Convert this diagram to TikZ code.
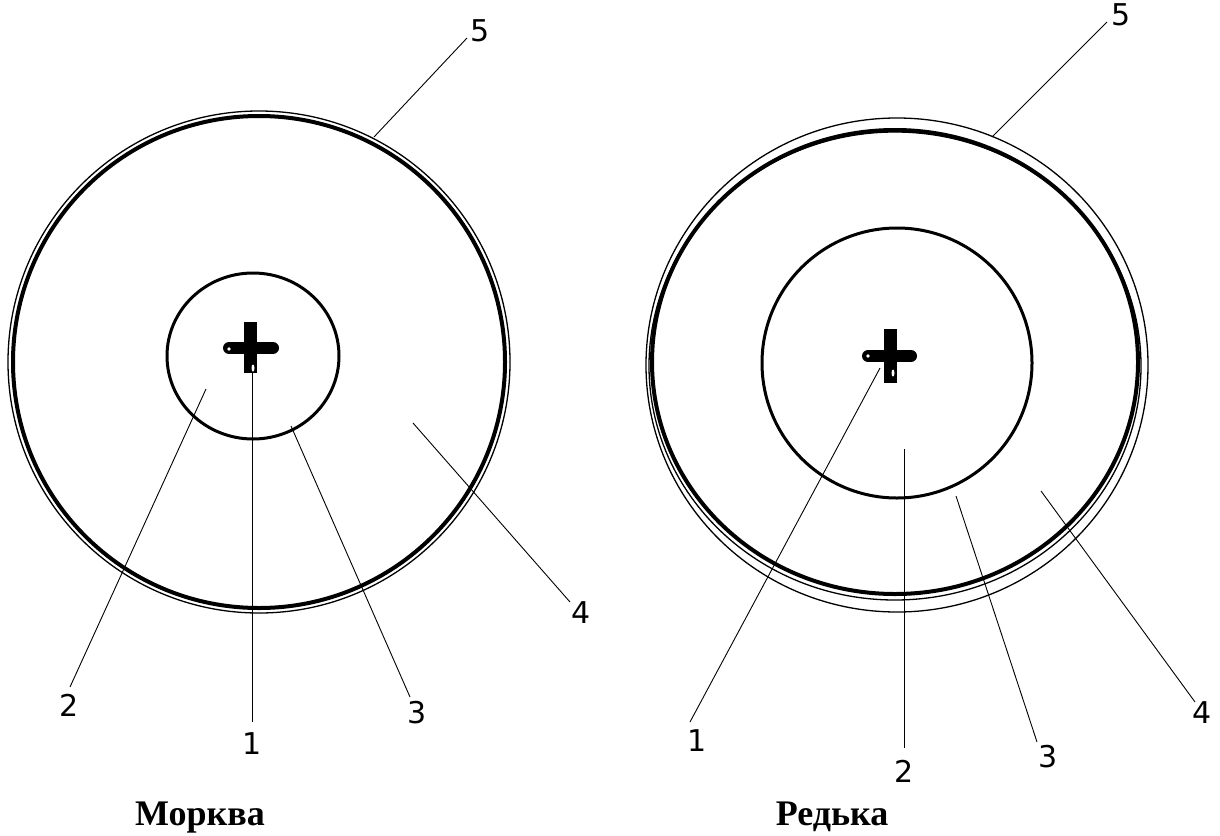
\documentclass[tikz,border=0pt]{standalone}
\usepackage{fontspec}
\setmainfont{Liberation Serif}
\newfontfamily\digitfont{DejaVu Sans}
\begin{document}
\begin{tikzpicture}[x=1pt,y=-1pt,
  thickc/.style={line width=4pt},
  thinc/.style={line width=1.3pt},
  innerc/.style={line width=3pt},
  leader/.style={line width=0.9pt},
  hbar/.style={line width=12pt, line cap=round},
  vbar/.style={line width=13pt},
  num/.style={font=\digitfont\fontsize{30}{30}\selectfont, inner sep=0pt},
  caption/.style={font=\bfseries\fontsize{36}{36}\selectfont, inner sep=0pt, anchor=base}]
\useasboundingbox[fill=white] (0,0) rectangle (1220,835);

% ---------------- left: Morkva ----------------
\draw[thinc] (259,362) circle[radius=251];
\draw[thickc] (259,362) circle[radius=246];
\draw[innerc] (253,356) circle[x radius=86, y radius=83];
% cross
\draw[hbar] (229,348) -- (273,348);
\draw[vbar] (250.5,322) -- (250.5,373);
\fill[white] (229,349) circle[radius=1.8];
\fill[white] (253,368) circle[x radius=1.5, y radius=3.5];

\coordinate (La1) at (252,373);
\coordinate (Lb1) at (252,722);
\coordinate (La2) at (206,389);
\coordinate (Lb2) at (70,687);
\coordinate (La3) at (291,426);
\coordinate (Lb3) at (410,697);
\coordinate (La4) at (413,423);
\coordinate (Lb4) at (570,602);
\coordinate (La5) at (374,137);
\coordinate (Lb5) at (467,38);

\node[num] (Ln1) at (252,744) {1};
\node[num] (Ln2) at (69,705) {2};
\node[num] (Ln3) at (417,713) {3};
\node[num] (Ln4) at (581,613) {4};
\node[num] (Ln5) at (480,31) {5};

\draw[leader] (La1) -- (Lb1);
\draw[leader] (La2) -- (Lb2);
\draw[leader] (La3) -- (Lb3);
\draw[leader] (La4) -- (Lb4);
\draw[leader] (La5) -- (Lb5);

\node[caption] (Lt) at (200,825) {Морква};

% ---------------- right: Redka ----------------
\draw[thinc] (897,365) circle[x radius=251, y radius=247];
\draw[thinc] (895,366) circle[x radius=246, y radius=234];
\draw[thickc] (895,362) circle[x radius=243, y radius=232];
\draw[innerc] (897,363) circle[radius=135];
% cross
\draw[hbar] (868,356) -- (911,356);
\draw[vbar] (890,329) -- (890,383);
\fill[white] (868,356) circle[radius=1.8];
\fill[white] (893,373) circle[x radius=1.5, y radius=3.5];

\coordinate (Ra1) at (880,368);
\coordinate (Rb1) at (690,722);
\coordinate (Ra2) at (904,449);
\coordinate (Rb2) at (904,748);
\coordinate (Ra3) at (956,496);
\coordinate (Rb3) at (1037,742);
\coordinate (Ra4) at (1041,491);
\coordinate (Rb4) at (1195,702);
\coordinate (Ra5) at (992,137);
\coordinate (Rb5) at (1107,22);

\node[num] (Rn1) at (697,741) {1};
\node[num] (Rn2) at (904,771) {2};
\node[num] (Rn3) at (1048,757) {3};
\node[num] (Rn4) at (1202,713) {4};
\node[num] (Rn5) at (1121,15) {5};

\draw[leader] (Ra1) -- (Rb1);
\draw[leader] (Ra2) -- (Rb2);
\draw[leader] (Ra3) -- (Rb3);
\draw[leader] (Ra4) -- (Rb4);
\draw[leader] (Ra5) -- (Rb5);

\node[caption] (Rt) at (832,825) {Редька};
\end{tikzpicture}
\end{document}
